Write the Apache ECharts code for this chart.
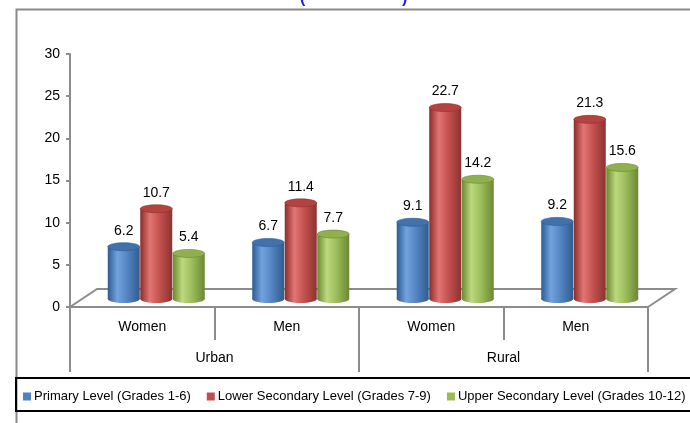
<!DOCTYPE html>
<html>
<head>
<meta charset="utf-8">
<script src="https://cdn.jsdelivr.net/npm/echarts@6/dist/echarts.min.js"></script>
<style>
  html, body { margin: 0; padding: 0; background: #fff; }
  #chart { width: 690px; height: 423px; }
</style>
</head>
<body>
<div id="chart"></div>
<script>
const genders = ['Women', 'Men', 'Women', 'Men'];
const areas = ['Urban', 'Rural'];
const levels = ['Primary Level (Grades 1-6)', 'Lower Secondary Level (Grades 7-9)', 'Upper Secondary Level (Grades 10-12)'];
const primary = [6.2, 6.7, 9.1, 9.2];
const lowerSecondary = [10.7, 11.4, 22.7, 21.3];
const upperSecondary = [5.4, 7.7, 14.2, 15.6];
const yTicks = [0, 5, 10, 15, 20, 25, 30];

const colors = ['#4f81bd', '#c0504d', '#9bbb59'];
const shades = [
  ['#2c5a90', '#73a3df', '#5585c2', '#2f5b8f'],
  ['#8a2c2a', '#e27572', '#c4524f', '#8c3230'],
  ['#6a8731', '#bcd97f', '#9dbd5b', '#6b8833']
];
const caps = ['#4272ad', '#b4423f', '#8fb04c'];

// depth shift of the 3D floor (bars stand in its middle)
const DX = 14, DY = -8, BAR_W = 32, RY = 4;

const chart = echarts.init(document.getElementById('chart'));

function cylinder(idx) {
  return function (params, api) {
    const ci = api.value(0);
    const v = api.value(1);
    const top = api.coord([ci, v]);
    const base = api.coord([ci, 0]);
    const cx = top[0] + (idx - 1) * (BAR_W + 0.5) + DX;
    const yTop = top[1] + DY;
    const yBot = base[1] + DY;
    const s = shades[idx];
    const grad = new echarts.graphic.LinearGradient(0, 0, 1, 0, [
      { offset: 0, color: s[0] },
      { offset: 0.3, color: s[1] },
      { offset: 0.6, color: s[2] },
      { offset: 1, color: s[3] }
    ]);
    return {
      type: 'group',
      children: [
        { type: 'ellipse', shape: { cx: cx, cy: yBot, rx: BAR_W / 2, ry: RY }, style: { fill: grad } },
        { type: 'rect', shape: { x: cx - BAR_W / 2, y: yTop, width: BAR_W, height: yBot - yTop }, style: { fill: grad } },
        { type: 'ellipse', shape: { cx: cx, cy: yTop, rx: BAR_W / 2, ry: RY }, style: { fill: caps[idx], stroke: s[3], lineWidth: 0.6 } },
        { type: 'text', style: { x: cx, y: yTop - 16, text: String(v), fill: '#000', font: '14px "Liberation Sans", Arial, sans-serif', align: 'center', verticalAlign: 'middle' } }
      ]
    };
  };
}

const seriesData = [primary, lowerSecondary, upperSecondary];

const option = {
  animation: false,
  grid: { left: 70, right: 42, top: 54, bottom: 116 },
  legend: {
    data: levels,
    left: 23,
    top: 390,
    padding: 0,
    icon: 'rect',
    itemWidth: 8,
    itemHeight: 8,
    itemGap: 16,
    textStyle: { fontSize: 13, color: '#000', fontFamily: 'Liberation Sans, Arial, sans-serif', padding: [0, 0, 0, -2] }
  },
  xAxis: [
    {
      type: 'category',
      data: genders,
      position: 'bottom',
      axisLine: { lineStyle: { color: '#8c8c8c', width: 2 } },
      axisTick: { show: true, length: 33, lineStyle: { color: '#8c8c8c', width: 2 } },
      axisLabel: { color: '#000', fontSize: 14, margin: 13, fontFamily: 'Liberation Sans, Arial, sans-serif' }
    },
    {
      type: 'category',
      data: areas,
      position: 'bottom',
      axisLine: { show: false },
      axisTick: { show: true, length: 65, lineStyle: { color: '#8c8c8c', width: 2 } },
      axisLabel: { color: '#000', fontSize: 14, margin: 44, fontFamily: 'Liberation Sans, Arial, sans-serif' }
    }
  ],
  yAxis: {
    type: 'value',
    min: yTicks[0],
    max: yTicks[yTicks.length - 1],
    interval: 5,
    axisLine: { show: true, lineStyle: { color: '#8c8c8c', width: 2 } },
    axisTick: { show: true, length: 4, lineStyle: { color: '#8c8c8c', width: 2 } },
    splitLine: { show: false },
    axisLabel: { color: '#000', fontSize: 14, margin: 10, fontFamily: 'Liberation Sans, Arial, sans-serif' }
  },
  series: levels.map((name, i) => ({
    name: name,
    type: 'custom',
    renderItem: cylinder(i),
    itemStyle: { color: colors[i] },
    encode: { x: 0, y: 1 },
    data: seriesData[i].map((v, k) => [k, v]),
    z: 3
  })),
  graphic: [
    // outer chart border
    { type: 'rect', left: 14, top: 7, shape: { width: 700, height: 430 }, style: { fill: 'none', stroke: '#8a8a8a', lineWidth: 2 }, z: 0 },
    // floor of the 3D plot
    { type: 'polyline', shape: { points: [[70, 307], [97, 289], [675, 289], [648, 307]] }, style: { fill: 'none', stroke: '#8c8c8c', lineWidth: 2 }, z: 1 },
    // legend box
    { type: 'rect', shape: { x: 16, y: 378, width: 690, height: 33 }, style: { fill: 'none', stroke: '#000', lineWidth: 2 }, z: 1 },
    // clipped title remnants
    { type: 'text', style: { x: 300, y: -9, text: '(', fill: '#1f1fe0', font: 'bold 16px "Liberation Sans", Arial' } },
    { type: 'text', style: { x: 402, y: -9, text: ')', fill: '#1f1fe0', font: 'bold 16px "Liberation Sans", Arial' } }
  ]
};

chart.setOption(option);
</script>
</body>
</html>
